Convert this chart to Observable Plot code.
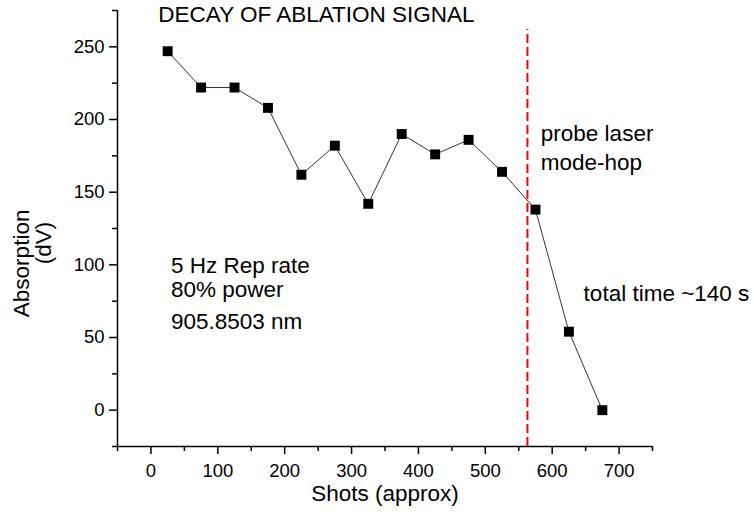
<!DOCTYPE html>
<html>
<head>
<meta charset="utf-8">
<script src="https://cdn.jsdelivr.net/npm/d3@7"></script>
<script src="https://cdn.jsdelivr.net/npm/@observablehq/plot@0.6"></script>
<style>
  html, body { margin: 0; padding: 0; background: #fff; }
  svg { display: block; }
</style>
</head>
<body>
<div id="chart"></div>
<script>
// Data
const shots = [25, 75, 125, 175, 225, 275, 325, 375, 425, 475, 525, 575, 625, 675];
const absorption = [247, 222, 222, 208, 162, 182, 142, 190, 176, 186, 164, 138, 54, 0];
const modeHopShot = [563];

const xMajorTicks = [0, 100, 200, 300, 400, 500, 600, 700];
const xMinorTicks = [-50, 50, 150, 250, 350, 450, 550, 650, 750];
const yMajorTicks = [0, 50, 100, 150, 200, 250];
const yMinorTicks = [-25, 25, 75, 125, 175, 225, 275];

const titleText = ["DECAY OF ABLATION SIGNAL"];
const notes = [
  {text: "5 Hz Rep rate", x: 30, y: 99.5},
  {text: "80% power", x: 30, y: 83},
  {text: "905.8503 nm", x: 30, y: 61},
  {text: "probe laser", x: 583, y: 190},
  {text: "mode-hop", x: 583, y: 170},
  {text: "total time ~140 s", x: 647, y: 80}
];

const data = shots.map((s, i) => ({shots: s, absorption: absorption[i]}));
const font = "'Liberation Sans', Arial, sans-serif";
const txt = 22.5;

const chart = Plot.plot({
  width: 754,
  height: 520,
  marginLeft: 117,
  marginRight: 102,
  marginTop: 10,
  marginBottom: 74,
  style: {fontFamily: font, background: "#fff", color: "#000"},
  x: {domain: [-50, 750]},
  y: {domain: [-25, 275]},
  marks: [
    Plot.axisX({ticks: xMajorTicks, tickSize: 8, tickPadding: 9, fontSize: 18.5, label: null, strokeWidth: 1.5}),
    Plot.axisX({ticks: xMinorTicks, tickSize: 5, text: null, label: null, strokeWidth: 1.5}),
    Plot.axisY({ticks: yMajorTicks, tickSize: 8, tickPadding: 5, fontSize: 18.5, label: null, strokeWidth: 1.5}),
    Plot.axisY({ticks: yMinorTicks, tickSize: 5, text: null, label: null, strokeWidth: 1.5}),
    Plot.ruleY([-25], {stroke: "#000", strokeWidth: 1.5}),
    Plot.ruleX([-50], {stroke: "#000", strokeWidth: 1.5}),
    Plot.ruleX(modeHopShot, {y1: -25, y2: 262, stroke: "#ff0000", strokeWidth: 2, strokeDasharray: "9,4"}),
    Plot.line(data, {x: "shots", y: "absorption", stroke: "#333", strokeWidth: 1}),
    Plot.dot(data, {x: "shots", y: "absorption", symbol: "square", r: 5.6, fill: "#000", stroke: "none"}),
    Plot.text(titleText, {x: [11], y: [272], text: d => d, textAnchor: "start", lineAnchor: "middle", fontSize: txt, fill: "#000"}),
    Plot.text(notes, {x: "x", y: "y", text: "text", textAnchor: "start", lineAnchor: "middle", fontSize: txt, fill: "#000"}),
    Plot.text(["Shots (approx)"], {frameAnchor: "bottom", dy: 47, text: d => d, textAnchor: "middle", lineAnchor: "middle", fontSize: txt, fill: "#000"}),
    Plot.text(["Absorption"], {frameAnchor: "left", y: [101], dx: -96, rotate: -90, text: d => d, textAnchor: "middle", lineAnchor: "middle", fontSize: txt, fill: "#000"}),
    Plot.text(["(dV)"], {frameAnchor: "left", y: [115], dx: -74, rotate: -90, text: d => d, textAnchor: "middle", lineAnchor: "middle", fontSize: txt, fill: "#000"})
  ]
});
document.getElementById("chart").appendChild(chart);
</script>
</body>
</html>
